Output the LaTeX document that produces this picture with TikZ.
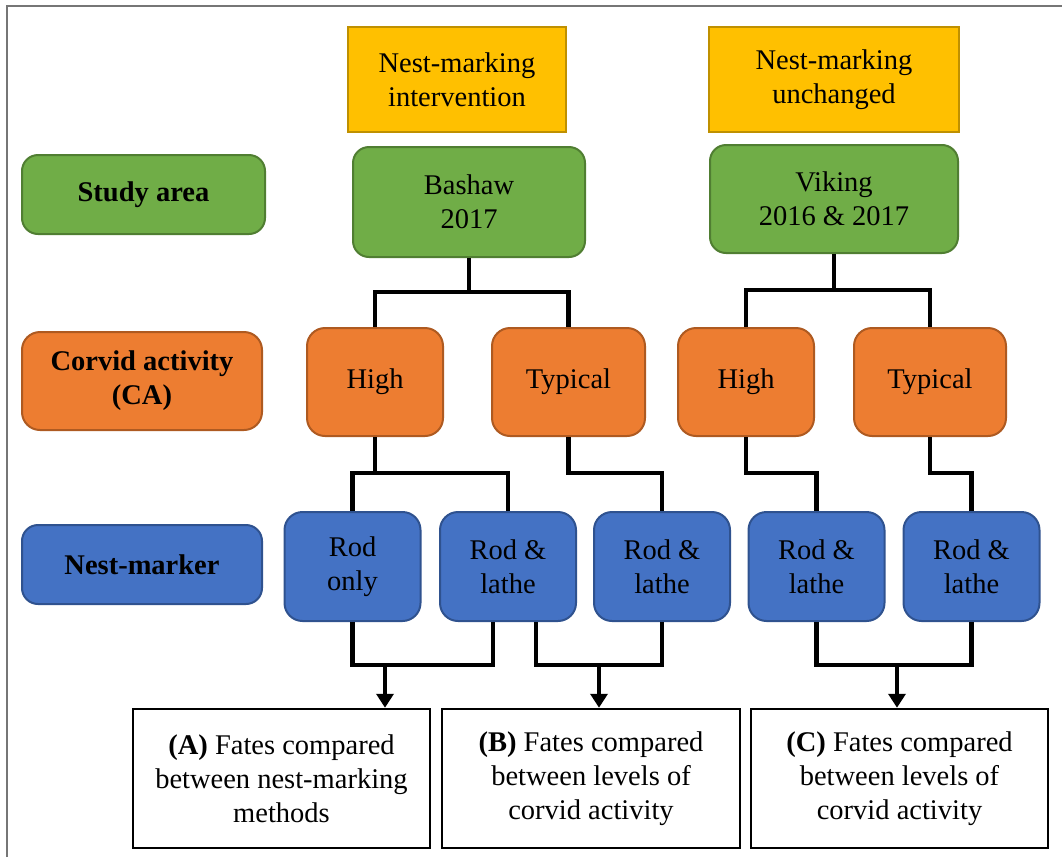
\documentclass[tikz,border=0pt]{standalone}
\usepackage{fontspec}
\setmainfont{Liberation Serif}
\usepackage{tikz}
\usetikzlibrary{arrows.meta,positioning}
\usepackage{xcolor}
\definecolor{gold}{HTML}{FFC000} \definecolor{goldline}{HTML}{BF9000}
\definecolor{leaf}{HTML}{70AD47} \definecolor{leafline}{HTML}{507E32}
\definecolor{rust}{HTML}{ED7D31} \definecolor{rustline}{HTML}{AE5A21}
\definecolor{sky}{HTML}{4472C4} \definecolor{skyline}{HTML}{2F528F}
\definecolor{framegray}{HTML}{767676}

\begin{document}
\begin{tikzpicture}[x=1pt,y=-1pt,
     every node/.style={font=\fontsize{28.5}{34}\selectfont, align=center, inner sep=0pt},
     markbox/.style={draw=goldline, fill=gold, line width=2pt, minimum height=105pt},
     areabox/.style={draw=leafline, fill=leaf, line width=2pt, rounded corners=16pt},
     corvbox/.style={draw=rustline, fill=rust, line width=2pt, rounded corners=18pt},
     rodbox/.style={draw=skyline, fill=sky, line width=2pt, rounded corners=18pt, minimum width=136pt, minimum height=109pt},
     fatebox/.style={draw=black, fill=white, line width=2.5pt, minimum width=297pt, minimum height=139pt},
     link/.style={black, line width=4.5pt},
     arrow/.style={black, line width=3.5pt, -{Triangle[length=14pt,width=17pt]}}]
     \useasboundingbox (0,0) rectangle (1062,857);
     \draw[framegray, line width=2pt] (7,857) -- (7,6) -- (1062,6);

     \node[markbox, minimum width=218pt] (markint) at (457,79.5) {Nest-marking\\intervention};
     \node[markbox, minimum width=250pt] (markunch) at (834,79.5) {Nest-marking\\unchanged};

     \node[areabox, minimum width=243pt, minimum height=79pt] (areahead) at (143.5,194.5) {\textbf{Study area}};
     \node[areabox, minimum width=232pt, minimum height=110pt] (bashaw) at (469,202) {Bashaw\\2017};
     \node[areabox, minimum width=248pt, minimum height=108pt] (viking) at (834,199) {Viking\\2016 \& 2017};

     \node[corvbox, minimum width=240pt, minimum height=98pt] (corvhead) at (142,381) {\textbf{Corvid activity}\\\textbf{(CA)}};
     \node[corvbox, minimum width=136pt, minimum height=108pt] (bhigh) at (375,382) {High};
     \node[corvbox, minimum width=153pt, minimum height=108pt] (btyp) at (568.5,382) {Typical};
     \node[corvbox, minimum width=136pt, minimum height=108pt] (vhigh) at (746,382) {High};
     \node[corvbox, minimum width=152pt, minimum height=108pt] (vtyp) at (930,382) {Typical};

     \node[rodbox, rounded corners=16pt, minimum width=240pt, minimum height=79pt] (rodhead) at (142,564.5) {\textbf{Nest-marker}};
     \node[rodbox] (brod) at (352.5,566.5) {Rod\\only};
     \node[rodbox] (blathe) at (508,566.5) {Rod \&\\lathe};
     \node[rodbox] (btlathe) at (662,566.5) {Rod \&\\lathe};
     \node[rodbox] (vhlathe) at (816.5,566.5) {Rod \&\\lathe};
     \node[rodbox] (vtlathe) at (971.5,566.5) {Rod \&\\lathe};

     \node[fatebox] (fateA) at (281.5,778.5) {\textbf{(A)} Fates compared\\between nest-marking\\methods};
     \node[fatebox, minimum width=298pt] (fateB) at (591,778.5) {\textbf{(B)} Fates compared\\between levels of\\corvid activity};
     \node[fatebox] (fateC) at (899.5,778.5) {\textbf{(C)} Fates compared\\between levels of\\corvid activity};

     \coordinate (bsplit) at (bashaw.south |- 0,292);
     \coordinate (vsplit) at (viking.south |- 0,290);
     \draw[link] (bashaw.south) -- (bsplit); \draw[link] (bhigh.north) |- (bsplit) -| (btyp.north);
     \draw[link] (viking.south) -- (vsplit); \draw[link] (vhigh.north) |- (vsplit) -| (vtyp.north);

     \draw[link] (brod.north) |- (bhigh.south |- 0,473) -| (blathe.north); \draw[link] (bhigh.south) -- (bhigh.south |- 0,473);
     \draw[link] (btyp.south) |- (btlathe.north |- 0,473) -- (btlathe.north);
     \draw[link] (vhigh.south) |- (vhlathe.north |- 0,473) -- (vhlathe.north);
     \draw[link] (vtyp.south) |- (vtlathe.north |- 0,473) -- (vtlathe.north);

     \coordinate (joinA) at (385,665); \coordinate (joinB) at (599,665); \coordinate (joinC) at (897,665);
     \draw[link] (brod.south) |- (joinA) -| ([xshift=-15pt]blathe.south);
     \draw[link] ([xshift=28pt]blathe.south) |- (joinB) -| (btlathe.south);
     \draw[link] (vhlathe.south) |- (joinC) -| (vtlathe.south);

     \draw[arrow] (joinA) -- (joinA |- fateA.north);
     \draw[arrow] (joinB) -- (joinB |- fateB.north);
     \draw[arrow] (joinC) -- (joinC |- fateC.north);
\end{tikzpicture}
\end{document}
